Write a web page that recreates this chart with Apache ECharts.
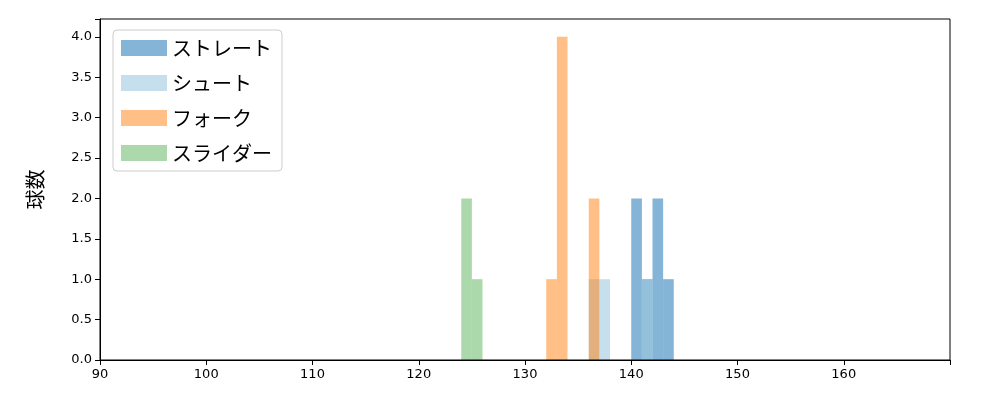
<!DOCTYPE html>
<html>
<head>
<meta charset="utf-8">
<script src="https://cdn.jsdelivr.net/npm/echarts@6/dist/echarts.min.js"></script>
<style>html,body{margin:0;padding:0;background:#fff}#c{width:1000px;height:400px}</style>
</head>
<body>
<div id="c"></div>
<script>
var seriesNames = ['ストレート', 'シュート', 'フォーク', 'スライダー'];
var seriesColors = ['rgba(31,119,180,0.55)', 'rgba(158,202,225,0.6)', 'rgba(255,127,14,0.5)', 'rgba(44,160,44,0.4)'];
// bins: [start, end, count]
var straightBins = [[140, 141, 2], [141, 142, 1], [142, 143, 2], [143, 144, 1]];
var shootBins = [[136, 137, 1], [137, 138, 1], [141, 142, 1]];
var forkBins = [[132, 133, 1], [133, 134, 4], [136, 137, 2]];
var sliderBins = [[124, 125, 2], [125, 126, 1]];
var allBins = [straightBins, shootBins, forkBins, sliderBins];

var chart = echarts.init(document.getElementById('c'));

function renderBar(params, api) {
    var p0 = api.coord([api.value(0), api.value(2)]);
    var p1 = api.coord([api.value(1), 0]);
    return {
        type: 'rect',
        shape: { x: p0[0], y: p0[1], width: p1[0] - p0[0], height: p1[1] - p0[1] },
        style: { fill: api.visual('color') }
    };
}

var series = allBins.map(function (bins, i) {
    return {
        name: seriesNames[i],
        type: 'custom',
        renderItem: renderBar,
        encode: { x: [0, 1], y: 2 },
        itemStyle: { color: seriesColors[i] },
        data: bins
    };
});

var axisText = { color: '#000', fontSize: 13, fontFamily: 'DejaVu Sans' };

chart.setOption({
    animation: false,
    grid: { left: 100, right: 50, top: 19, bottom: 40 },
    legend: {
        left: 113, top: 30, orient: 'vertical', itemWidth: 46, itemHeight: 16, itemGap: 15,
        padding: [8, 10, 8, 8],
        borderColor: '#ccc', borderWidth: 1, borderRadius: 4,
        textStyle: { fontSize: 20, fontFamily: 'Noto Sans CJK JP', color: '#000' },
        data: seriesNames.map(function (n, i) { return { name: n, icon: 'rect', itemStyle: { color: seriesColors[i] } }; })
    },
    xAxis: {
        type: 'value', min: 90, max: 170, interval: 10,
        axisLine: { show: true, lineStyle: { color: '#000' } },
        axisTick: { show: true, length: 5, lineStyle: { color: '#000' } },
        axisLabel: Object.assign({ formatter: function (v) { return v === 170 ? '' : v; } }, axisText),
        splitLine: { show: false }
    },
    yAxis: {
        type: 'value', min: 0, max: 4.22, interval: 0.5,
        name: '球数', nameLocation: 'middle', nameGap: 55,
        nameTextStyle: { fontSize: 20, fontFamily: 'Noto Sans CJK JP', color: '#000' },
        axisLine: { show: true, lineStyle: { color: '#000' } },
        axisTick: { show: true, length: 5, lineStyle: { color: '#000' } },
        axisLabel: Object.assign({ formatter: function (v) { return v > 4.1 ? '' : v.toFixed(1); } }, axisText),
        splitLine: { show: false }
    },
    graphic: [{
        type: 'rect', silent: true, z: 100,
        shape: { x: 100, y: 19, width: 850, height: 341 },
        style: { fill: 'none', stroke: '#000', lineWidth: 1 }
    }],
    series: series
});
</script>
</body>
</html>
